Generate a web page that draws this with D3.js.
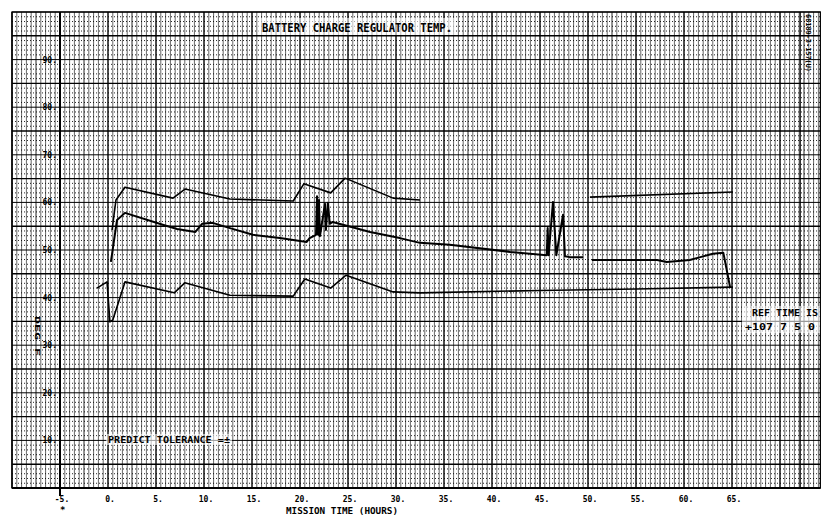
<!DOCTYPE html>
<html><head><meta charset="utf-8">
<script src="https://cdn.jsdelivr.net/npm/d3@7"></script>
<style>body{margin:0;background:#fff}svg{display:block}</style>
</head><body><svg id="c" width="828" height="519"></svg>
<script>
// ---- data (mission time in hours, temperature) ----
const xTicks = [-5,0,5,10,15,20,25,30,35,40,45,50,55,60,65];
const xTickLabels = ["-5.","0.","5.","10.","15.","20.","25.","30.","35.","40.","45.","50.","55.","60.","65."];
const yTicks = [10,20,30,40,50,60,70,80,90];
const yTickLabels = ["10.","20.","30.","40.","50.","60.","70.","80.","90."];

// upper predict tolerance (null = gap in trace)
const upperHours = [0.42,0.83,1.77,6.77,8.02,12.7,19.3,20.4,23.2,24.7,29.7,32.5,null,50.2,65.1];
const upperTemp  = [54.2,60.5,63.2,60.9,62.8,60.7,60.3,63.9,62.0,65.1,60.9,60.5,null,61.1,62.2];

// lower predict tolerance
const lowerHours = [-1.15,-0.1,0.2,0.5,1.77,6.9,8.0,12.7,19.3,20.5,23.2,24.8,29.7,32.5,45,55,65.1];
const lowerTemp  = [42.0,43.3,34.9,35.3,43.3,41.0,43.1,40.5,40.3,43.9,42.0,44.7,41.2,41.0,41.5,41.8,42.2];

// measured regulator temperature
const actualHours = [0.3,0.94,1.77,5.7,7.2,9.1,9.8,10.9,12.7,15.1,17.9,20.7,21.0,
  21.67,21.77,21.88,21.98,22.08,22.6,22.7,22.9,23.1,23.4,27.3,30.4,32.5,35.6,41.9,
  45.7,45.8,45.9,46.35,46.7,47.4,47.6,48.1,49.5,null,50.4,57.2,58.2,60.6,61.7,63.0,64.1,64.8];
const actualTemp  = [47.5,56.3,57.8,55.3,54.4,53.8,55.5,55.7,54.6,53.2,52.5,51.7,52.5,
  53.2,61.3,53.2,60.5,52.9,59.7,54.2,59.9,55.5,55.9,53.8,52.5,51.5,51.1,49.6,
  48.9,54.6,48.9,60.1,48.9,57.4,48.7,48.5,48.5,null,47.9,47.9,47.5,47.9,48.5,49.2,49.4,42.2];

// ---- drawing ----
const svg = d3.select("#c");
const x = d3.scaleLinear().domain([-5,65]).range([60,732]);
const y = d3.scaleLinear().domain([0,100]).range([488,12]);
const xMin=-10, xMax=74.2, yMin=0, yMax=100;

svg.append("rect").attr("width",828).attr("height",519).attr("fill","#fff");
const g = svg.append("g");

// graph paper: minor verticals
const isMul=(d,m)=>Math.abs(d/m-Math.round(d/m))<1e-6;
g.append("g").selectAll("line").data(d3.range(xMin,xMax+0.01,0.5)).join("line")
  .attr("x1",d=>x(d)).attr("x2",d=>x(d)).attr("y1",y(yMax)).attr("y2",y(yMin))
  .attr("stroke","#000").attr("stroke-opacity",d=>isMul(d,5)?1:(isMul(d,2.5)?0.85:0.6))
  .attr("stroke-width",d=>isMul(d,5)?1.4:1);
// minor horizontals (dotted)
g.append("g").selectAll("line").data(d3.range(yMin,yMax+0.01,1)).join("line")
  .attr("x1",x(xMin)).attr("x2",x(xMax)).attr("y1",d=>y(d)).attr("y2",d=>y(d))
  .attr("stroke","#000")
  .attr("stroke-dasharray",d=>isMul(d,5)?null:"1,2")
  .attr("stroke-opacity",d=>isMul(d,5)?1:0.85)
  .attr("stroke-width",d=>isMul(d+5,10)?1.4:1);
// paper border
g.append("rect").attr("x",x(xMin)).attr("y",y(yMax)).attr("width",x(xMax)-x(xMin)).attr("height",y(yMin)-y(yMax))
  .attr("fill","none").attr("stroke","#000").attr("stroke-width",1.3);
g.append("line").attr("x1",x(72.1)).attr("x2",x(72.1)).attr("y1",y(yMax)).attr("y2",y(yMin)).attr("stroke","#000").attr("stroke-width",1.3);

// axes
g.append("line").attr("x1",x(-5)).attr("x2",x(-5)).attr("y1",y(yMax)).attr("y2",y(0)+8).attr("stroke","#000").attr("stroke-width",2);
g.append("line").attr("x1",x(xMin)).attr("x2",x(xMax)).attr("y1",y(0)).attr("y2",y(0)).attr("stroke","#000").attr("stroke-width",2);

const font = "'DejaVu Sans Mono', monospace";
// x tick labels
g.append("g").selectAll("text").data(xTicks).join("text")
  .attr("x",d=>x(d)+2).attr("y",y(0)+14).attr("text-anchor","middle")
  .attr("font-family",font).attr("font-weight","bold").attr("font-size",8)
  .text((d,i)=>xTickLabels[i]);
// y tick labels
g.append("g").selectAll("text").data(yTicks).join("text")
  .attr("x",x(-5)-3).attr("y",d=>y(d)+3).attr("text-anchor","end")
  .attr("font-family",font).attr("font-weight","bold").attr("font-size",8)
  .text((d,i)=>yTickLabels[i]);

// data lines
const line = d3.line().defined(d=>d[0]!==null).x(d=>x(d[0])).y(d=>y(d[1]));
const zip = (a,b)=>a.map((v,i)=>[v,b[i]]);
g.append("path").datum(zip(upperHours,upperTemp)).attr("d",line).attr("fill","none").attr("stroke","#000").attr("stroke-width",1.6).attr("stroke-linejoin","round");
g.append("path").datum(zip(lowerHours,lowerTemp)).attr("d",line).attr("fill","none").attr("stroke","#000").attr("stroke-width",1.6).attr("stroke-linejoin","round");
g.append("path").datum(zip(actualHours,actualTemp)).attr("d",line).attr("fill","none").attr("stroke","#000").attr("stroke-width",2).attr("stroke-linejoin","round");

// texts
function txt(t,px,py,size,opts={}){
  const e=g.append("text").attr("x",px).attr("y",py).attr("font-family",font).attr("font-weight","bold")
    .attr("font-size",size).attr("fill","#000").text(t);
  if(opts.anchor) e.attr("text-anchor",opts.anchor);
  if(opts.len) e.attr("textLength",opts.len).attr("lengthAdjust","spacingAndGlyphs");
  if(opts.tr) e.attr("transform",opts.tr);
  return e;
}
g.append("rect").attr("x",258).attr("y",18).attr("width",198).attr("height",17).attr("fill","#fff").attr("opacity",0.6);
txt("BATTERY CHARGE REGULATOR TEMP.",262,32,13,{len:190});
txt("MISSION TIME (HOURS)",286,514,8,{len:112});
g.append("rect").attr("x",742).attr("y",306).attr("width",78).attr("height",27).attr("fill","#fff").attr("opacity",0.6);
txt("REF TIME IS",752,316,8,{len:66});
txt("+107 7 5 0",745,330,8,{len:70});
g.append("rect").attr("x",106).attr("y",434).attr("width",126).attr("height",11).attr("fill","#fff").attr("opacity",0.6);
txt("PREDICT TOLERANCE =±",108,443,8,{len:122});
txt("68189-3-157(U)",0,0,7,{tr:"translate(806,14) rotate(90)",len:58});
txt("DEG F",0,0,7,{tr:"translate(35,316) rotate(90)",len:40});
txt("*",60,513,9);
</script></body></html>
